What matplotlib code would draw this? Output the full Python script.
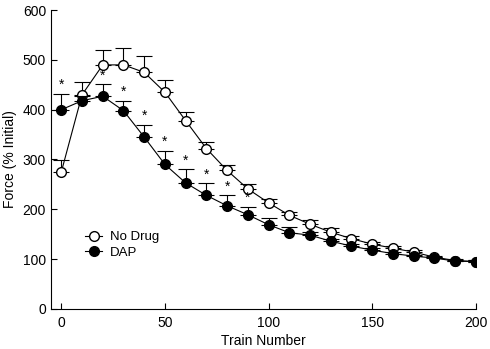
import matplotlib.pyplot as plt
import numpy as np

plt.rcParams['font.family'] = ['Liberation Sans', 'DejaVu Sans']

# train numbers
trains = [0, 10, 20, 30, 40, 50, 60, 70, 80, 90, 100,
          110, 120, 130, 140, 150, 160, 170, 180, 190, 200]

# force (% initial), means and upper SEM
no_drug = [275, 430, 490, 490, 475, 435, 378, 322, 278, 241, 213,
           188, 170, 154, 141, 130, 122, 114, 104, 97, 95]
no_drug_err = [24, 25, 30, 34, 32, 25, 17, 14, 11, 9, 8,
               7, 9, 8, 6, 5, 5, 5, 3, 3, 3]

dap = [400, 418, 427, 398, 345, 290, 253, 228, 207, 189, 169,
       153, 148, 136, 126, 118, 111, 106, 102, 96, 95]
dap_err = [31, 10, 24, 20, 25, 28, 27, 24, 21, 16, 14,
           11, 6, 5, 5, 4, 4, 3, 3, 3, 3]

# trains where DAP differs significantly
sig_trains = [0, 20, 30, 40, 50, 60, 70, 80, 90]

fig = plt.figure(figsize=(4.9, 3.49), dpi=100)
ax = fig.add_axes([0.104, 0.115, 0.867, 0.856])

zeros = np.zeros(len(trains))
ax.errorbar(trains, no_drug, yerr=[zeros, no_drug_err], fmt='-o', color='black',
            mfc='white', mec='black', ms=7, lw=0.8, elinewidth=0.8,
            capsize=6, capthick=0.8, label='No Drug', zorder=3)
ax.errorbar(trains, dap, yerr=[zeros, dap_err], fmt='-o', color='black',
            mfc='black', mec='black', ms=7, lw=0.8, elinewidth=0.8,
            capsize=6, capthick=0.8, label='DAP', zorder=4)

# significance stars above DAP error bars
for t in sig_trains:
    i = trains.index(t)
    ax.text(t, dap[i] + dap_err[i] + 4, '*', ha='center', va='bottom',
            fontsize=10, zorder=6)

ax.set_xlim(-5, 200)
ax.set_ylim(0, 600)
ax.set_xticks([0, 50, 100, 150, 200])
ax.set_yticks([0, 100, 200, 300, 400, 500, 600])
ax.tick_params(direction='in', length=4, labelsize=10, width=0.8)
ax.tick_params(axis='x', pad=5)
ax.spines['top'].set_visible(False)
ax.spines['right'].set_visible(False)
ax.set_xlabel('Train Number', fontsize=10, labelpad=3)
ax.set_ylabel('Force (% Initial)', fontsize=10, labelpad=4)

handles, labels = ax.get_legend_handles_labels()
handles = [h[0] for h in handles]
ax.legend(handles, labels, loc='lower left', bbox_to_anchor=(0.065, 0.145),
          frameon=False, fontsize=9.5, handlelength=1.3, handletextpad=0.6,
          labelspacing=0.25, borderpad=0)

fig.savefig('out.png', dpi=100)
